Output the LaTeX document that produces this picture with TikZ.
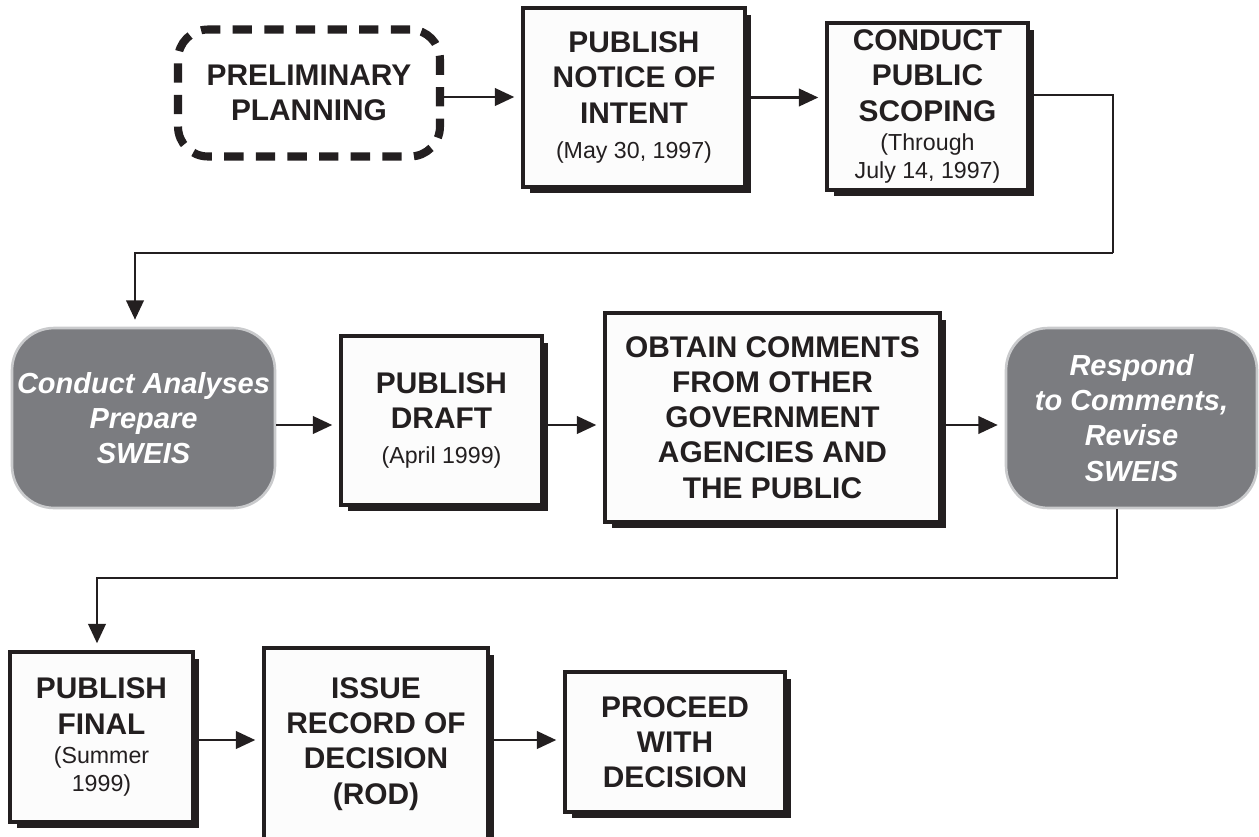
\documentclass[tikz,border=0pt]{standalone}
\usepackage{fontspec}
\setmainfont{Liberation Sans}
\usepackage{tikz}
\usetikzlibrary{arrows.meta}
\usetikzlibrary{shadows}
\usetikzlibrary{positioning}

\definecolor{ink}{HTML}{231F20}
\definecolor{paper}{HTML}{FCFCFC}
\definecolor{slate}{HTML}{7B7C80}
\definecolor{rim}{HTML}{C9CACC}

\newcommand\dated[1]{{\normalfont\fontsize{13.2}{15}\selectfont #1}}

\begin{document}
\begin{tikzpicture}[
      x=0.02cm, y=-0.02cm,
      sketch/.style={draw=ink, line width=4.6pt, dash pattern=on 11pt off 7pt,
        rounded corners=17pt, fill=white, align=center, inner sep=0pt,
        text=ink, font=\bfseries\fontsize{17}{20}\selectfont},
      block/.style={rectangle, draw=ink, line width=2pt, fill=paper, align=center,
        inner sep=0pt, text=ink, font=\bfseries\fontsize{17}{20}\selectfont,
        drop shadow={shadow xshift=0.13cm, shadow yshift=-0.13cm, opacity=1, fill=ink}},
      pane/.style={rectangle, rounded corners=24pt, draw=rim, line width=1.5pt, fill=slate,
        align=center, inner sep=0pt, text=white,
        font=\bfseries\itshape\fontsize{16.5}{20}\selectfont},
      flow/.style={-{Triangle[length=11pt,width=10pt]}, line width=1.2pt, draw=ink, shorten >=4pt}
    ]
    \useasboundingbox (0,0) rectangle (1259,836);

    % first row
    \node [sketch, minimum width=5.24cm, minimum height=2.54cm] (plan) at (309,93)
      {PRELIMINARY\\PLANNING} ;
    \node [block, minimum width=4.44cm, minimum height=3.58cm] (notice) at (634,97.5)
      {PUBLISH\\NOTICE OF\\INTENT\\\dated{(May 30, 1997)}} ;
    \node [block, minimum width=4.02cm, minimum height=3.34cm] (scoping) at (927.5,106.5)
      {CONDUCT\\PUBLIC\\SCOPING\\[-3.5pt]\dated{(Through}\\[-4pt]\dated{July 14, 1997)}} ;

    % second row
    \node [pane, minimum width=5.26cm, minimum height=3.6cm] (analyses) at (143.5,418)
      {Conduct Analyses\\Prepare\\SWEIS} ;
    \node [block, minimum width=4.02cm, minimum height=3.38cm] (draft) at (441.5,420.5)
      {PUBLISH\\DRAFT\\\dated{(April 1999)}} ;
    \node [block, minimum width=6.7cm, minimum height=4.18cm] (comments) at (772.5,417.5)
      {OBTAIN COMMENTS\\FROM OTHER\\GOVERNMENT\\AGENCIES AND\\THE PUBLIC} ;
    \node [pane, minimum width=5.02cm, minimum height=3.6cm] (respond) at (1131.5,418)
      {Respond\\to Comments,\\Revise\\SWEIS} ;

    % third row
    \node [block, minimum width=3.66cm, minimum height=3.4cm] (final) at (101.5,737)
      {PUBLISH\\FINAL\\[-3.5pt]\dated{(Summer}\\[-4pt]\dated{1999)}} ;
    \node [block, minimum width=4.48cm, minimum height=3.84cm] (rod) at (376,744)
      {ISSUE\\RECORD OF\\DECISION\\(ROD)} ;
    \node [block, minimum width=4.4cm, minimum height=2.8cm] (proceed) at (675,742)
      {PROCEED\\WITH\\DECISION} ;

    \coordinate (turnA) at (1113,253) ;
    \coordinate (turnB) at (97,578) ;

    \draw [flow] ([yshift=-0.08cm]plan.east) -- ([yshift=-0.08cm]plan.east -| notice.west) ;
    \draw [flow] (notice.east) -- (notice.east -| scoping.west) ;
    \draw [flow, -, shorten >=0pt] ([yshift=0.23cm]scoping.east) -| (turnA) ;
    \draw [flow] (turnA) -| ([xshift=-0.17cm]analyses.north) ;

    \draw [flow] ([yshift=-0.14cm]analyses.east) -- ([yshift=-0.14cm]analyses.east -| draft.west) ;
    \draw [flow] ([yshift=-0.09cm]draft.east) -- ([yshift=-0.09cm]draft.east -| comments.west) ;
    \draw [flow] ([yshift=-0.15cm]comments.east) -- ([yshift=-0.15cm]comments.east -| respond.west) ;
    \draw [flow] ([xshift=-0.29cm]respond.south) |- (turnB) -- (turnB |- final.north) ;

    \draw [flow] ([yshift=-0.06cm]final.east) -- ([yshift=-0.06cm]final.east -| rod.west) ;
    \draw [flow] ([yshift=0.08cm]rod.east) -- ([yshift=0.08cm]rod.east -| proceed.west) ;
  \end{tikzpicture}
\end{document}
